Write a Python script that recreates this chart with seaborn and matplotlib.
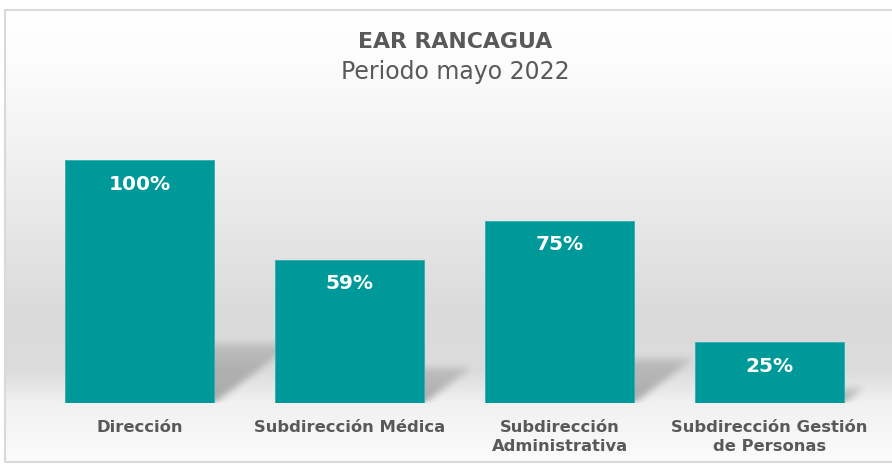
import numpy as np
import pandas as pd
import matplotlib
matplotlib.use("Agg")
import matplotlib.pyplot as plt
from matplotlib.colors import LinearSegmentedColormap
from matplotlib.patches import Rectangle
import seaborn as sns

categories = ["Dirección", "Subdirección Médica", "Subdirección\nAdministrativa",
              "Subdirección Gestión\nde Personas"]
values = [100, 59, 75, 25]
value_labels = ["100%", "59%", "75%", "25%"]
title = "EAR RANCAGUA"
subtitle = "Periodo mayo 2022"

sns.set_theme(style="white")
plt.rcParams["font.family"] = ["DejaVu Sans"]

W, H = 892, 469
fig = plt.figure(figsize=(W / 100, H / 100), dpi=100)
fig.patch.set_facecolor("white")

# background panel with vertical gradient
bx0, by0, bx1, by1 = 5, 10, 900, 462
bg = fig.add_axes([bx0 / W, (H - by1) / H, (bx1 - bx0) / W, (by1 - by0) / H], zorder=0)
stops = [(0.0, "#ffffff"), (0.12, "#fcfcfc"), (0.40, "#ececec"), (0.68, "#dadada"),
         (0.80, "#dcdcdc"), (0.87, "#f1f1f1"), (1.0, "#fbfbfb")]
cmap = LinearSegmentedColormap.from_list("bg", stops)
grad = np.linspace(0, 1, 256).reshape(-1, 1)
bg.imshow(grad, aspect="auto", cmap=cmap, extent=[0, 1, 1, 0], vmin=0, vmax=1)
bg.set_xlim(0, 1)
bg.set_ylim(1, 0)
bg.axis("off")
fig.patches.append(Rectangle((bx0 / W, (H - by1) / H), (bx1 - bx0) / W, (by1 - by0) / H,
                             transform=fig.transFigure, fill=False, edgecolor="#d9d9d9",
                             linewidth=1.5, zorder=5))

# main axes
left_px, right_px, base_px, top_px = 34.5, 874.5, 403, 120
ax = fig.add_axes([left_px / W, (H - base_px) / H, (right_px - left_px) / W,
                   (base_px - top_px) / H], zorder=2)
ax.patch.set_alpha(0)

df = pd.DataFrame({"cat": categories, "val": values})
teal = "#009999"
sns.barplot(data=df, x="cat", y="val", color=teal, width=0.71, ax=ax,
            saturation=1, edgecolor="#2fb0b0", linewidth=0.6, zorder=3)
ymax = (base_px - top_px) / 2.43
ax.set_ylim(0, ymax)
ax.set_xlim(-0.5, len(categories) - 0.5)

# soft perspective shadows rendered as a blurred alpha image in data coordinates
nx, ny = int(right_px - left_px), int(base_px - top_px)
xs = np.linspace(-0.5, len(categories) - 0.5, nx)
ys = np.linspace(0, ymax, ny)
X, Y = np.meshgrid(xs, ys)
x_per_unit_y = 2.43 / ((right_px - left_px) / len(categories))
mask = np.zeros_like(X)
shade = np.zeros_like(X)
hw = 0.355
for i, v in enumerate(values):
    dy_full = 0.24 * v
    dx_full = 0.32 * v * x_per_unit_y
    t = Y / dy_full
    inside = (t >= 0) & (t <= 1) & (X >= i - hw + dx_full * t) & (X <= i + hw + dx_full * t)
    mask = np.maximum(mask, inside.astype(float))
    shade = np.where(inside, np.clip(1 - 0.55 * t, 0, 1), shade)


def box_blur(a, k):
    kern = np.ones(k) / k
    a = np.apply_along_axis(lambda r: np.convolve(r, kern, mode="same"), 1, a)
    a = np.apply_along_axis(lambda c: np.convolve(c, kern, mode="same"), 0, a)
    return a


alpha = box_blur(box_blur(mask * shade, 9), 7) * 0.40
rgba = np.zeros((ny, nx, 4))
rgba[..., :3] = 0.25
rgba[..., 3] = alpha
ax.imshow(rgba, extent=[-0.5, len(categories) - 0.5, 0, ymax], origin="lower",
          aspect="auto", zorder=1, interpolation="bilinear")
ax.set_xlim(-0.5, len(categories) - 0.5)
ax.set_ylim(0, ymax)

for i, (v, lab) in enumerate(zip(values, value_labels)):
    ax.annotate(lab, (i, v), xytext=(0, -24), textcoords="offset pixels",
                ha="center", va="center", color="white", fontsize=14.5,
                fontweight="bold", zorder=5)

sns.despine(ax=ax, left=True, bottom=True)
ax.set_yticks([])
ax.set_xlabel("")
ax.set_ylabel("")
ax.tick_params(axis="x", length=0, pad=12, labelsize=11.8, labelcolor="#595959")
for t in ax.get_xticklabels():
    t.set_fontweight("bold")
    t.set_linespacing(1.4)

fig.text(455 / W, 1 - 42 / H, title, ha="center", va="center", fontsize=15.8,
         fontweight="bold", color="#595959")
fig.text(455 / W, 1 - 72 / H, subtitle, ha="center", va="center", fontsize=17,
         color="#595959")

fig.savefig("out.png", dpi=100)
